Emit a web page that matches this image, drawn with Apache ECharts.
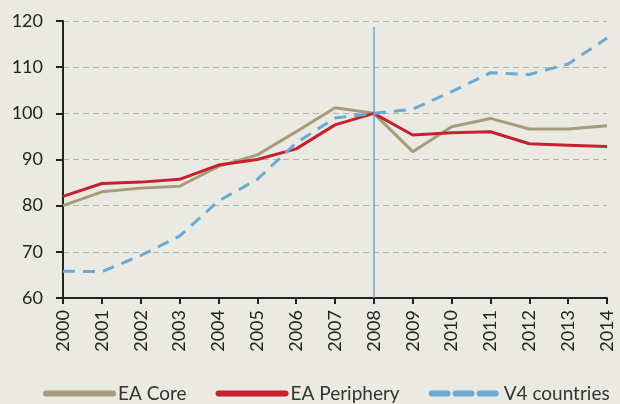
<!DOCTYPE html>
<html><head><meta charset="utf-8">
<script src="https://cdn.jsdelivr.net/npm/echarts@6/dist/echarts.min.js"></script>
<style>html,body{margin:0;padding:0;background:#ebeae2;}#c{width:620px;height:404px;}</style>
</head><body><div id="c"></div>
<script>
const years = ['2000','2001','2002','2003','2004','2005','2006','2007','2008','2009','2010','2011','2012','2013','2014'];
const eaCore = [80.0, 83.0, 83.8, 84.2, 88.5, 91.0, 96.0, 101.2, 100.0, 91.7, 97.1, 98.9, 96.6, 96.6, 97.3];
const eaPeriphery = [82.0, 84.8, 85.1, 85.7, 88.8, 90.0, 92.3, 97.5, 100.0, 95.3, 95.8, 96.0, 93.4, 93.1, 92.8];
const v4 = [65.8, 65.7, 69.2, 73.4, 81.0, 85.7, 93.6, 99.0, 100.0, 100.9, 104.7, 108.8, 108.4, 110.7, 116.3];
const yTicks = [60, 70, 80, 90, 100, 110, 120];
const markYear = '2008';
const markTop = 118.7;

const font = 'Lato, "Open Sans", sans-serif';
const chart = echarts.init(document.getElementById('c'), null, {renderer:'canvas'});
chart.setOption({
  backgroundColor: '#ebeae2',
  animation: false,
  grid: {left: 63, right: 13, top: 21, bottom: 106},
  legend: {
    top: 384, left: 43, padding: 0, itemGap: 29, itemWidth: 67, itemHeight: 12,
    textStyle: {fontFamily: font, fontSize: 19, color: '#333'},
    lineStyle: {width: 6, cap: 'round'},
    itemStyle: {opacity: 0},
    data: [
      {name: 'EA Core'},
      {name: 'EA Periphery'},
      {name: 'V4 countries', lineStyle: {width: 6, cap: 'round', type: [16, 8]}}
    ]
  },
  xAxis: {
    type: 'category', data: years, boundaryGap: false,
    axisLine: {lineStyle: {color: '#222', width: 2}},
    axisTick: {show: true, length: 6, lineStyle: {color: '#222', width: 2}, alignWithLabel: true},
    axisLabel: {rotate: 90, fontFamily: font, fontSize: 18, color: '#222', margin: 12}
  },
  yAxis: {
    type: 'value', min: yTicks[0], max: yTicks[yTicks.length-1], interval: 10,
    axisLine: {show: true, lineStyle: {color: '#222', width: 2}},
    axisTick: {show: true, length: 7, lineStyle: {color: '#222', width: 2}},
    axisLabel: {fontFamily: font, fontSize: 18, color: '#222', margin: 20},
    splitLine: {lineStyle: {color: '#b3b3b0', type: [6, 4], width: 1}}
  },
  series: [
    {name: 'EA Core', type: 'line', data: eaCore, symbol: 'none',
     lineStyle: {color: '#a59c7a', width: 3}, itemStyle: {color: '#a59c7a'}},
    {name: 'EA Periphery', type: 'line', data: eaPeriphery, symbol: 'none',
     lineStyle: {color: '#c91f2e', width: 3}, itemStyle: {color: '#c91f2e'}},
    {name: 'V4 countries', type: 'line', data: v4, symbol: 'none',
     lineStyle: {color: '#6aaad6', width: 3, type: [12, 8]}, itemStyle: {color: '#6aaad6'},
     markLine: {silent: true, symbol: 'none', label: {show: false},
       lineStyle: {color: '#6aa4d4', width: 1.5, type: 'solid'},
       data: [[{coord: [markYear, yTicks[0]]}, {coord: [markYear, markTop]}]]}}
  ]
});
</script></body></html>
